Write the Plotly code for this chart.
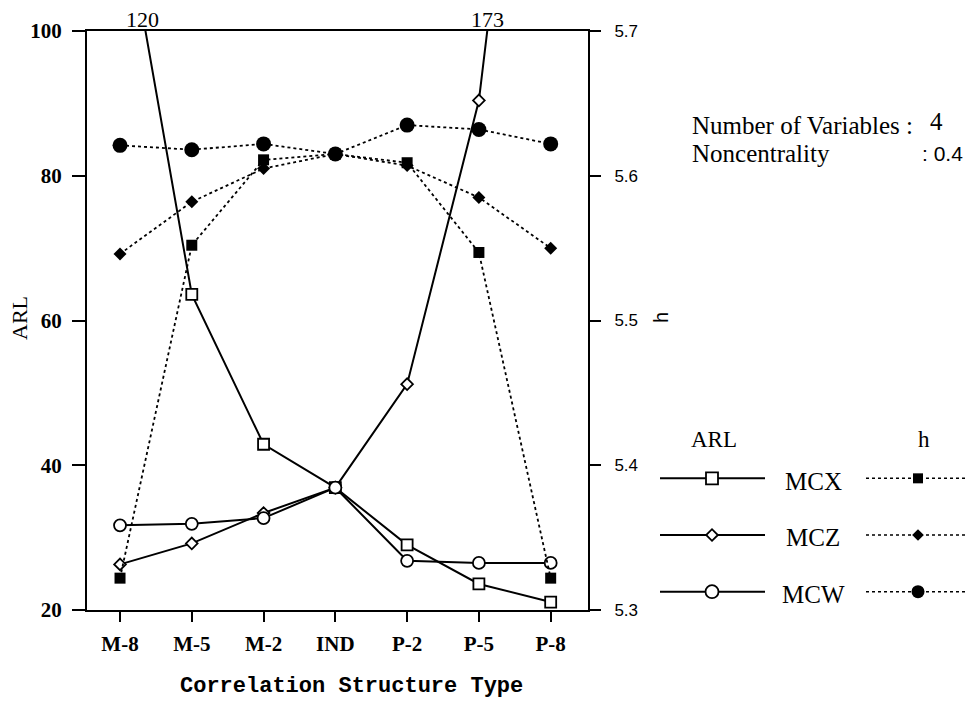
import plotly.graph_objects as go

# page body has an 8px default margin; size the figure so the page fits the 975x703 window
OFF = 8
W, H = 975 - OFF, 703 - OFF


def px(x):
    return (x - OFF) / W


def py(y):
    return 1 - (y - OFF) / H


categories = ["M-8", "M-5", "M-2", "IND", "P-2", "P-5", "P-8"]
xi = list(range(len(categories)))

# ARL (left axis)
arl_mcx = [120, 63.6, 42.9, 36.9, 29.0, 23.6, 21.1]
arl_mcz = [26.3, 29.2, 33.4, 36.9, 51.2, 90.4, 173]
arl_mcw = [31.7, 31.9, 32.7, 36.9, 26.8, 26.5, 26.5]

# h (right axis)
h_mcx = [5.322, 5.552, 5.611, 5.615, 5.609, 5.547, 5.322]
h_mcz = [5.546, 5.582, 5.605, 5.615, 5.607, 5.585, 5.550]
h_mcw = [5.621, 5.618, 5.622, 5.615, 5.635, 5.632, 5.622]

arl_ticks = [20, 40, 60, 80, 100]
h_ticks = [5.3, 5.4, 5.5, 5.6, 5.7]

series_names = ["MCX", "MCZ", "MCW"]
arl_symbols = ["square", "diamond", "circle"]
arl_sizes = [11, 9, 12]
h_symbols = ["square", "diamond", "circle"]
h_sizes = [11, 10, 15]

# off-scale values annotated at top
offscale_labels = ["120", "173"]
offscale_x = [0.32, 5.12]

serif = "Liberation Serif"
sans = "Liberation Sans"
mono = "Liberation Mono"

fig = go.Figure()

arl_data = [arl_mcx, arl_mcz, arl_mcw]
h_data = [h_mcx, h_mcz, h_mcw]

for name, vals, sym, sz in zip(series_names, h_data, h_symbols, h_sizes):
    fig.add_trace(go.Scatter(
        x=xi, y=vals, mode="lines+markers", name=name + " h",
        line=dict(color="black", width=1.8, dash="dot"),
        marker=dict(symbol=sym, size=sz, color="black"),
        yaxis="y2", showlegend=False))

for name, vals, sym, sz in zip(series_names, arl_data, arl_symbols, arl_sizes):
    fig.add_trace(go.Scatter(
        x=xi, y=vals, mode="lines+markers", name=name + " ARL",
        line=dict(color="black", width=2),
        marker=dict(symbol=sym, size=sz, color="white",
                    line=dict(width=1.8, color="black")),
        yaxis="y", showlegend=False))

# legend key drawn on its own small axis
leg_rows = list(range(len(series_names)))
leg_arl_sizes = [12, 9, 13]
leg_h_sizes = [10, 9, 13]
for r, sym, sz, hsym, hsz in zip(leg_rows, arl_symbols, leg_arl_sizes, h_symbols, leg_h_sizes):
    fig.add_trace(go.Scatter(
        x=[660, 712, 765], y=[r, r, r], mode="lines",
        line=dict(color="black", width=2), xaxis="x3", yaxis="y3",
        showlegend=False, hoverinfo="skip"))
    fig.add_trace(go.Scatter(
        x=[712], y=[r], mode="markers",
        marker=dict(symbol=sym, size=sz, color="white",
                    line=dict(width=1.8, color="black")),
        xaxis="x3", yaxis="y3", showlegend=False, hoverinfo="skip"))
    fig.add_trace(go.Scatter(
        x=[866, 918, 965], y=[r, r, r], mode="lines",
        line=dict(color="black", width=1.5, dash="dot"), xaxis="x3", yaxis="y3",
        showlegend=False, hoverinfo="skip"))
    fig.add_trace(go.Scatter(
        x=[918], y=[r], mode="markers",
        marker=dict(symbol=hsym, size=hsz, color="black"),
        xaxis="x3", yaxis="y3", showlegend=False, hoverinfo="skip"))


def ann(x, y, text, font, xref="paper", yref="paper", xanchor="center",
        yanchor="middle", textangle=0):
    return dict(x=x, y=y, xref=xref, yref=yref, text=text, showarrow=False,
                xanchor=xanchor, yanchor=yanchor, textangle=textangle, font=font)


annotations = []
for r, name in zip(leg_rows, series_names):
    annotations.append(ann(813, r + 0.05, name,
                           dict(family=serif, size=25, color="black"), xref="x3", yref="y3"))
annotations.append(ann(px(714), py(440), "ARL", dict(family=serif, size=23, color="black")))
annotations.append(ann(px(924), py(440), "h", dict(family=serif, size=23, color="black")))

for lx, lt in zip(offscale_x, offscale_labels):
    annotations.append(ann(lx, py(19), lt, dict(family=serif, size=22, color="black"),
                           xref="x"))

# axis titles
annotations.append(ann(px(19), py(318), "ARL", dict(family=serif, size=22, color="black"),
                       textangle=-90))
annotations.append(ann(px(661), py(318), "h", dict(family=sans, size=20, color="black"),
                       textangle=-90))
annotations.append(ann(px(351), py(686), "Correlation Structure Type",
                       dict(family=mono, size=22, color="black", weight="bold")))

# info text
info_font = dict(family=serif, size=25, color="black")
annotations.append(ann(px(690), py(125), "Number of Variables :", info_font, xanchor="left"))
annotations.append(ann(px(928), py(121), "4", info_font, xanchor="left"))
annotations.append(ann(px(690), py(154), "Noncentrality", info_font, xanchor="left"))
annotations.append(ann(px(965), py(154), ": 0.4", dict(family=sans, size=21, color="black"),
                       xanchor="right"))

x0, x1 = px(87), px(588)
y0, y1 = py(610), py(31)

fig.update_layout(
    width=W, height=H,
    margin=dict(l=0, r=0, t=0, b=0),
    paper_bgcolor="white", plot_bgcolor="white",
    showlegend=False,
    xaxis=dict(domain=[x0, x1], range=[-0.46, 6.52], tickmode="array",
               tickvals=xi, ticktext=categories, showgrid=False, zeroline=False,
               showline=True, linecolor="black", linewidth=2, mirror=True,
               ticks="outside", ticklen=10, tickwidth=2, tickcolor="black",
               ticklabelstandoff=4,
               tickfont=dict(family=serif, size=21, color="black", weight="bold"),
               anchor="y", automargin=False),
    yaxis=dict(domain=[y0, y1], range=[20, 100], tickvals=arl_ticks,
               showgrid=False, zeroline=False, showline=True, linecolor="black",
               linewidth=2, ticks="outside", ticklen=13, tickwidth=2, tickcolor="black",
               ticklabelstandoff=6,
               tickfont=dict(family=serif, size=21, color="black", weight="bold"),
               anchor="x", automargin=False),
    yaxis2=dict(domain=[y0, y1], range=[5.3, 5.7], tickvals=h_ticks,
                ticktext=[f"{t:.1f}" for t in h_ticks],
                overlaying="y", side="right", anchor="x",
                showgrid=False, zeroline=False, showline=True, linecolor="black",
                linewidth=2, ticks="outside", ticklen=11, tickwidth=2, tickcolor="black",
                ticklabelstandoff=10,
                tickfont=dict(family=sans, size=17, color="black"), automargin=False),
    # legend-key axis, in window-pixel units horizontally
    xaxis3=dict(domain=[px(650), px(970)], range=[650, 970], visible=False,
                anchor="y3", fixedrange=True),
    yaxis3=dict(domain=[py(620), py(450)], range=[2.5, -0.5], visible=False,
                anchor="x3", fixedrange=True),
    annotations=annotations,
)

fig.write_html("out.html")
